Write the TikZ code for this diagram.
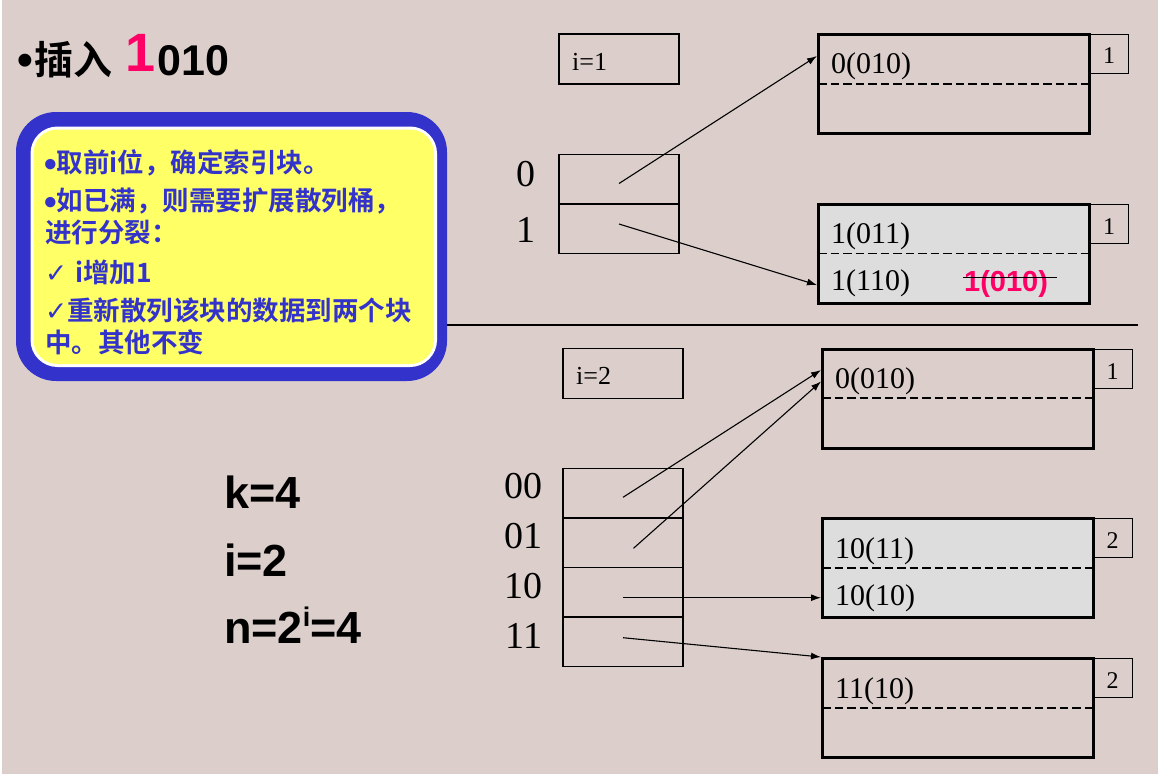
\documentclass[tikz,border=0pt]{standalone}
\usepackage{fontspec}
\setmainfont{Liberation Serif}
\newfontfamily\sansf{Liberation Sans}
\newfontfamily\cjkb{Noto Sans CJK SC Bold}
\newfontfamily\symf{DejaVu Sans}
\usetikzlibrary{arrows.meta}
\definecolor{bgc}{RGB}{220,207,203}
\definecolor{bluec}{RGB}{51,51,204}
\definecolor{bluetxt}{RGB}{51,51,204}
\definecolor{yellowc}{RGB}{255,255,102}
\definecolor{pinkc}{RGB}{255,0,102}
\definecolor{greyfill}{RGB}{221,221,221}
\newcommand{\ybul}{\makebox[10pt][l]{\smash{\raisebox{-4pt}{\hspace{-2.5pt}\sansf\bfseries\fontsize{36pt}{36pt}\selectfont •}}}}
\tikzset{
  cell/.style={draw=black, line width=1.3pt, minimum width=120pt, minimum height=49.6pt, anchor=north west, inner sep=0pt, outer sep=0pt},
  bucketbox/.style={draw=black, line width=3pt, minimum width=271pt, minimum height=99pt, anchor=north west, inner sep=0pt, outer sep=0pt},
  tagbox/.style={draw=black, line width=1.2pt, minimum width=39.5pt, minimum height=39.5pt, anchor=north west, inner sep=0pt, outer sep=0pt},
  dashline/.style={line width=1.7pt, dash pattern=on 8.5pt off 4pt},
  arr/.style={-{Latex[length=10pt,width=7pt]}, line width=1.1pt},
  numtxt/.style={font=\fontsize{30pt}{36pt}\selectfont, anchor=base west, inner sep=0pt},
  tagtxt/.style={font=\fontsize{24pt}{28pt}\selectfont, anchor=base, inner sep=0pt},
  bigtxt/.style={font=\fontsize{38pt}{44pt}\selectfont, anchor=base east, inner sep=0pt},
  itxt/.style={font=\fontsize{26pt}{30pt}\selectfont, anchor=base west, inner sep=0pt},
  ytxt/.style={font=\cjkb\fontsize{26.5pt}{30pt}\selectfont, text=bluetxt, anchor=base west, inner sep=0pt},
  ktxt/.style={font=\sansf\bfseries\fontsize{45pt}{50pt}\selectfont, anchor=base west, inner sep=0pt},
}
\begin{document}
\begin{tikzpicture}[x=1pt,y=-1pt]
\useasboundingbox (0,0) rectangle (1158,774);
\fill[white] (0,0) rectangle (1158,774);
\fill[bgc] (2,0) rectangle (1158,774);

% ---------- title ----------
\node[anchor=base west, inner sep=0pt, font=\sansf\bfseries\fontsize{45pt}{50pt}\selectfont] (tb) at (17,75) {•};
\node[anchor=base west, inner sep=0pt, font=\cjkb\fontsize{39pt}{44pt}\selectfont] (tc) at (34,74) {插入};
\node[anchor=base west, inner sep=0pt, font=\sansf\bfseries\fontsize{54pt}{60pt}\selectfont, text=pinkc] (t1) at (125,71.7) {1};
\node[anchor=base west, inner sep=0pt, font=\sansf\bfseries\fontsize{43pt}{50pt}\selectfont] (t2) at (157,75) {010};

% ---------- yellow note ----------
\fill[bluec, rounded corners=40pt] (16,112) rectangle (447,381);
\fill[white, rounded corners=27pt] (30.5,126.5) rectangle (437,367);
\fill[yellowc, rounded corners=24pt] (33.5,129.5) rectangle (434,364);
\node[ytxt] (y1) at (46.7,172) {\ybul 取前i位，确定索引块。};
\node[ytxt] (y2) at (46.7,210) {\ybul 如已满，则需要扩展散列桶，};
\node[ytxt] (y3) at (45,242) {进行分裂：};
\node[ytxt] (y4) at (45,282) {{\symf\mdseries ✓}\hspace{8pt}i增加1};
\node[ytxt] (y5) at (45,320) {{\symf\mdseries ✓}重新散列该块的数据到两个块};
\node[ytxt] (y6) at (45,352) {中。其他不变};

% ---------- separator ----------
\coordinate (sepL) at (447,325);
\coordinate (sepR) at (1138,325);
\draw[line width=1.2pt] (sepL) -- (sepR);

% ================= top half (i=1) =================
\node[cell, minimum height=50pt] (i1) at (559,34) {};
\node[itxt] (i1t) at (572,70.7) {i=1};

\node[cell] (d0) at (559,154.3) {};
\node[cell] (d1) at (559,203.9) {};
\node[bigtxt] (l0) at (536,186.5) {0};
\node[bigtxt] (l1) at (536,242) {1};

\node[bucketbox] (bA) at (818,34.3) {};
\draw[dashline] ([yshift=-49.7pt]bA.north west) -- ([yshift=-49.7pt]bA.north east);
\node[tagbox] (tA) at (bA.north east) {};
\node[numtxt] (a1) at (831,73.3) {0(010)};
\node[tagtxt] (tAt) at (1109,63.5) {1};

\node[bucketbox, fill=greyfill] (bB) at (818,204.3) {};
\draw[dashline] ([yshift=-49.2pt]bB.north west) -- ([yshift=-49.2pt]bB.north east);
\node[tagbox] (tB) at (bB.north east) {};
\node[numtxt] (b1) at (831,243) {1(011)};
\node[numtxt] (b2) at (831,290) {1(110)};
\node[numtxt, font=\sansf\bfseries\fontsize{29pt}{34pt}\selectfont, text=pinkc] (b3) at (964,291) {1(010)};
\coordinate (stL) at (963,277.7);
\coordinate (stR) at (1057,277.7);
\draw[line width=1.4pt] (stL) -- (stR);
\node[tagtxt] (tBt) at (1109,234) {1};

\coordinate (s0) at (619,183.5);
\coordinate (s1) at (619,224);
\coordinate (eA) at (817,56);
\coordinate (eB) at (817,285);
\draw[arr] (s0) -- (eA);
\draw[arr] (s1) -- (eB);

% ================= bottom half (i=2) =================
\node[cell, minimum height=50pt] (i2) at (563,348.3) {};
\node[itxt] (i2t) at (576,384) {i=2};

\node[cell] (e00) at (563,468.3) {};
\node[cell] (e01) at (563,517.9) {};
\node[cell] (e10) at (563,567.5) {};
\node[cell] (e11) at (563,617.1) {};
\node[bigtxt] (l00) at (542.5,498) {00};
\node[bigtxt] (l01) at (542.5,548) {01};
\node[bigtxt] (l10) at (542.5,598) {10};
\node[bigtxt] (l11) at (542.5,648) {11};

\node[bucketbox] (bC) at (822,349.3) {};
\draw[dashline] ([yshift=-49pt]bC.north west) -- ([yshift=-49pt]bC.north east);
\node[tagbox] (tC) at (bC.north east) {};
\node[numtxt] (c1) at (835,388) {0(010)};
\node[tagtxt] (tCt) at (1112.5,379) {1};

\node[bucketbox, fill=greyfill] (bD) at (822,518.3) {};
\draw[dashline] ([yshift=-50pt]bD.north west) -- ([yshift=-50pt]bD.north east);
\node[tagbox] (tD) at (bD.north east) {};
\node[numtxt] (d1t) at (835,558) {10(11)};
\node[numtxt] (d2t) at (835,605) {10(10)};
\node[tagtxt] (tDt) at (1112.5,548.5) {2};

\node[bucketbox] (bE) at (822,658.3) {};
\draw[dashline] ([yshift=-49.4pt]bE.north west) -- ([yshift=-49.4pt]bE.north east);
\node[tagbox] (tE) at (bE.north east) {};
\node[numtxt] (e1t) at (835,698) {11(10)};
\node[tagtxt] (tEt) at (1112.5,688.5) {2};

\coordinate (r00) at (623,497.3);
\coordinate (r01) at (633.5,548.3);
\coordinate (r10) at (623,597.7);
\coordinate (r11) at (623,637.7);
\coordinate (eC1) at (821,370);
\coordinate (eC2) at (821,381.5);
\coordinate (eD) at (821,597.7);
\coordinate (eE) at (821,657);
\draw[arr] (r00) -- (eC1);
\draw[arr] (r01) -- (eC2);
\draw[arr] (r10) -- (eD);
\draw[arr] (r11) -- (eE);

% ---------- parameters ----------
\node[ktxt] (k) at (224,508) {k=4};
\node[ktxt] (iv) at (224,576) {i=2};
\node[ktxt] (n) at (224,643.3) {n=2\raisebox{16.6pt}{\fontsize{27pt}{30pt}\selectfont i}=4};
\end{tikzpicture}
\end{document}
